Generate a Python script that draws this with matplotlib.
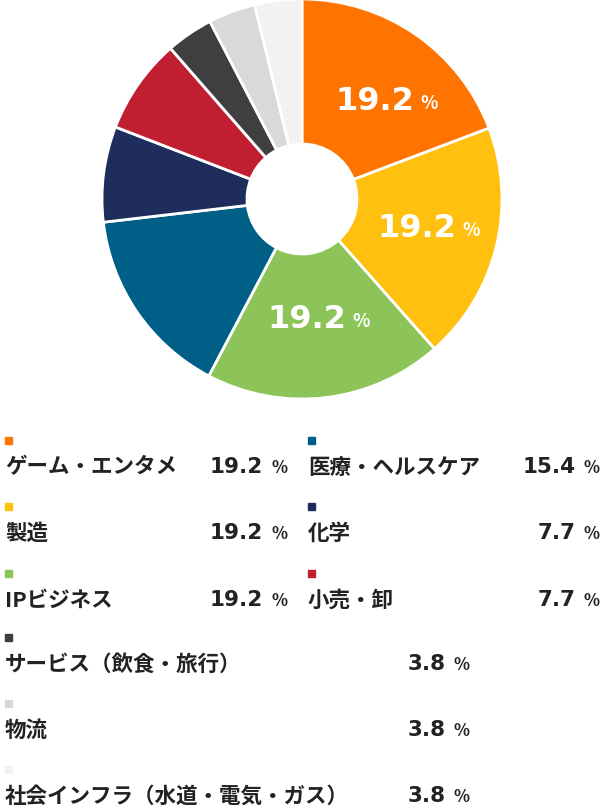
import matplotlib
matplotlib.use("Agg")
import matplotlib.pyplot as plt
import numpy as np

plt.rcParams['font.family'] = ['Noto Sans CJK JP', 'DejaVu Sans']

categories = ["ゲーム・エンタメ", "製造", "IPビジネス", "医療・ヘルスケア", "化学", "小売・卸",
              "サービス（飲食・旅行）", "物流", "社会インフラ（水道・電気・ガス）"]
values = [19.2, 19.2, 19.2, 15.4, 7.7, 7.7, 3.8, 3.8, 3.8]
colors = ["#FF7300", "#FFC010", "#8CC45A", "#005F87", "#1F2D5C", "#C01F32", "#3F3F3F", "#D9D9D9", "#F2F2F2"]

W, H = 602, 812
fig = plt.figure(figsize=(W/100, H/100), dpi=100)
cx, cy, R = 302, 200, 200
ax = fig.add_axes([(cx-R)/W, 1-(cy+R)/H, 2*R/W, 2*R/H])
wedges, _ = ax.pie(values, colors=colors, startangle=90, counterclock=False,
                   wedgeprops=dict(width=1-55/200, edgecolor="white", linewidth=2))
ax.set_xlim(-1, 1); ax.set_ylim(-1, 1); ax.set_aspect('equal')

shifts = [(0.17, 0.0), (0.14, 0.0), (0.1, 0.0)]
for i in range(3):
    w = wedges[i]
    ang = np.deg2rad((w.theta1 + w.theta2) / 2)
    r = 0.6
    x, y = r*np.cos(ang) + shifts[i][0], r*np.sin(ang) + shifts[i][1]
    ax.text(x+0.05, y, f"{values[i]}", color="white", fontsize=23, fontweight="bold",
            ha="right", va="center", family="DejaVu Sans")
    ax.text(x+0.08, y-0.01, "%", color="white", fontsize=13, fontweight="bold",
            ha="left", va="center")

def px(x, y):
    return x/W, 1-y/H

def entry(i, xl, xr, y):
    fig.patches.append(plt.Rectangle(px(xl, y-22), 7/W, 7/H, color=colors[i],
                                     transform=fig.transFigure, figure=fig))
    fig.text(*px(xl, y), categories[i], fontsize=15.5, fontweight="bold", color="#222222",
             ha="left", va="center")
    fig.text(*px(xr, y+1), "%", fontsize=12, fontweight="bold", color="#222222", ha="right", va="center")
    fig.text(*px(xr-24, y), f"{values[i]}", fontsize=15.5, fontweight="bold", color="#222222",
             ha="right", va="center", family="DejaVu Sans")

rows = [467, 533, 600]
for k in range(3):
    entry(k, 5, 287, rows[k])
    entry(k+3, 308, 600, rows[k])
for k, y in enumerate([664, 730, 796]):
    entry(6+k, 5, 470, y)

fig.savefig("out.png", dpi=100, facecolor="white")
